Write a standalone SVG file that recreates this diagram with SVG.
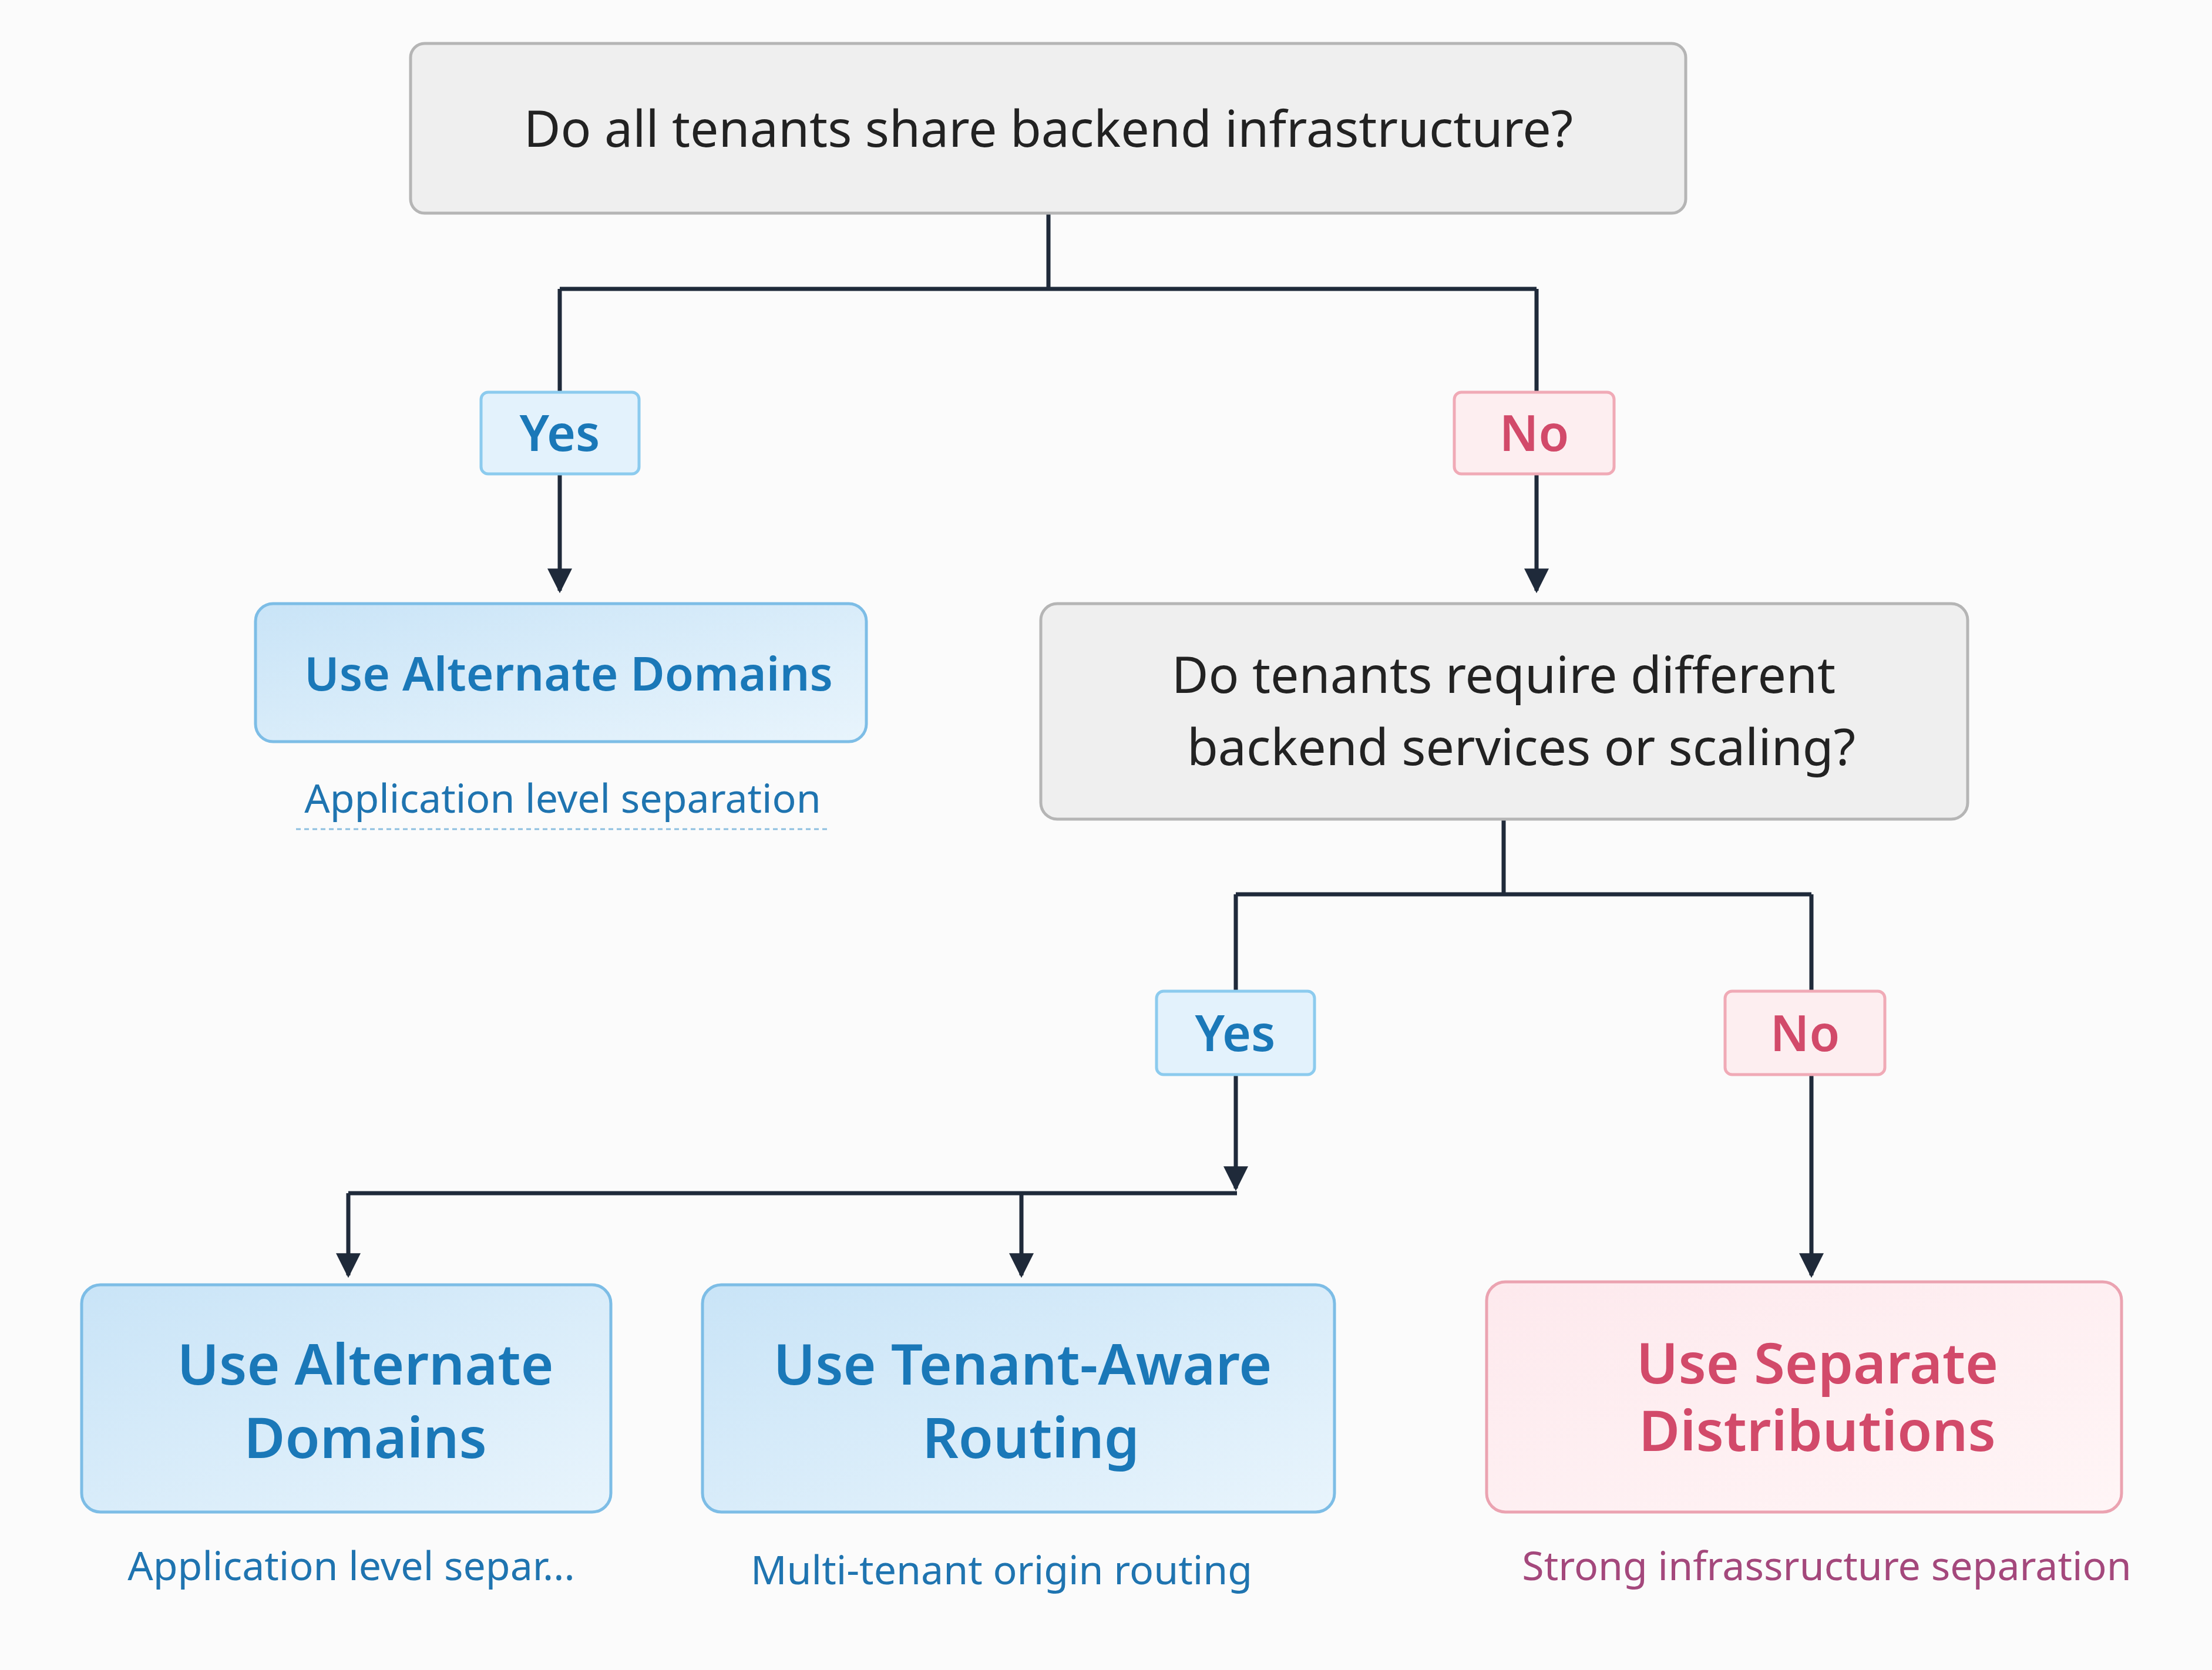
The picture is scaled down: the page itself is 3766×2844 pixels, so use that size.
<svg xmlns="http://www.w3.org/2000/svg" width="3766" height="2844" viewBox="0 0 3766 2844">
<defs>
<linearGradient id="bg" x1="0" y1="0" x2="1" y2="1"><stop offset="0" stop-color="#c9e4f7"/><stop offset="1" stop-color="#e8f4fc"/></linearGradient>
<linearGradient id="pg" x1="0" y1="0" x2="1" y2="1"><stop offset="0" stop-color="#fde9ed"/><stop offset="1" stop-color="#fff5f6"/></linearGradient>
<marker id="ah" viewBox="0 0 10 10" refX="9" refY="5" markerWidth="6" markerHeight="6" markerUnits="strokeWidth" orient="auto"><path d="M0,0 L10,5 L0,10 z" fill="#1f2a3a"/></marker>
</defs>
<style>
text{font-family:"Noto Sans","Open Sans",sans-serif;text-anchor:middle;dominant-baseline:central}
.q{fill:#efefef;stroke:#b5b5b5;stroke-width:5}
.b{fill:url(#bg);stroke:#7dbde6;stroke-width:5}
.p{fill:url(#pg);stroke:#eba3b1;stroke-width:5}
.yl{fill:#e3f2fc;stroke:#8ccbee;stroke-width:5}
.nl{fill:#fdeef0;stroke:#f0aab6;stroke-width:5}
.qt{font-size:86px;fill:#222}
.bt{fill:#1a78b8;font-weight:600}
.pt{fill:#d24a6a;font-weight:600}
.cap{font-size:68px;fill:#1f74b0}
.c{fill:none;stroke:#1f2a3a;stroke-width:7}
</style>
<rect width="3766" height="2844" fill="#fbfbfb"/>
<g id="connectors">
<path class="c" d="M1785,363 V492 M953,492 H2616 M953,492 V668 M2616,492 V668"/>
<path class="c" d="M953,807 V1006" marker-end="url(#ah)"/>
<path class="c" d="M2616,807 V1006" marker-end="url(#ah)"/>
<path class="c" d="M2560,1395 V1523 M2104,1523 H3084 M2104,1523 V1688 M3084,1523 V1688"/>
<path class="c" d="M2104,1830 V2024" marker-end="url(#ah)"/>
<path class="c" d="M593,2032 H2106 M593,2032 V2172" marker-end="url(#ah)"/>
<path class="c" d="M1739,2032 V2172" marker-end="url(#ah)"/>
<path class="c" d="M3084,1830 V2172" marker-end="url(#ah)"/>
</g>
<g id="q1"><rect class="q" x="699" y="74" width="2171" height="289" rx="24"/><text class="qt" x="1785" y="216">Do all tenants share backend infrastructure?</text></g>
<g id="yes1"><rect class="yl" x="819" y="668" width="269" height="139" rx="12"/><text class="bt" font-size="84" x="953" y="735">Yes</text></g>
<g id="no1"><rect class="nl" x="2476" y="668" width="272" height="139" rx="12"/><text class="pt" font-size="84" x="2612" y="735">No</text></g>
<g id="alt1"><rect class="b" x="435" y="1028" width="1040" height="235" rx="30"/><text class="bt" font-size="80" x="968" y="1144">Use Alternate Domains</text>
<text class="cap" x="958" y="1357">Application level separation</text><line x1="504" y1="1412" x2="1410" y2="1412" stroke="#8cbfe0" stroke-width="3" stroke-dasharray="8,6"/></g>
<g id="q2"><rect class="q" x="1772" y="1028" width="1578" height="367" rx="28"/><text class="qt" x="2560" y="1146">Do tenants require different</text><text class="qt" x="2590" y="1269">backend services or scaling?</text></g>
<g id="yes2"><rect class="yl" x="1969" y="1688" width="269" height="142" rx="12"/><text class="bt" font-size="84" x="2103" y="1757">Yes</text></g>
<g id="no2"><rect class="nl" x="2937" y="1688" width="272" height="142" rx="12"/><text class="pt" font-size="84" x="3073" y="1757">No</text></g>
<g id="alt2"><rect class="b" x="139" y="2188" width="901" height="387" rx="32"/><text class="bt" font-size="96" x="622" y="2320">Use Alternate</text><text class="bt" font-size="96" x="622" y="2445">Domains</text>
<text class="cap" x="598" y="2664">Application level separ...</text></g>
<g id="routing"><rect class="b" x="1196" y="2188" width="1076" height="387" rx="32"/><text class="bt" font-size="96" x="1741" y="2320">Use Tenant-Aware</text><text class="bt" font-size="96" x="1755" y="2445">Routing</text>
<text class="cap" x="1705" y="2671" fill="#3a8cc6">Multi-tenant origin routing</text></g>
<g id="separate"><rect class="p" x="2531" y="2183" width="1081" height="392" rx="32"/><text class="pt" font-size="96" x="3094" y="2318">Use Separate</text><text class="pt" font-size="96" x="3094" y="2433">Distributions</text>
<text class="cap" x="3110" y="2664" style="fill:#a4487c">Strong infrassructure separation</text></g>
</svg>
